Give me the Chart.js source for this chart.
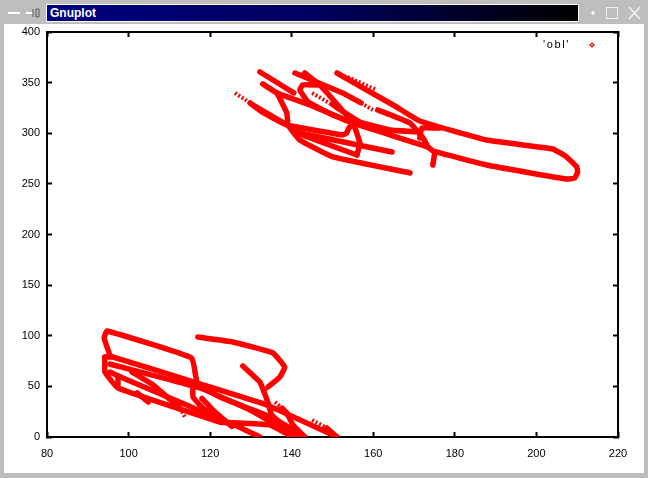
<!DOCTYPE html>
<html><head><meta charset="utf-8">
<script src="https://cdn.jsdelivr.net/npm/chart.js@4"></script>
<style>
html,body{margin:0;padding:0;width:648px;height:478px;overflow:hidden;background:#bebebe;font-family:"Liberation Sans",sans-serif}
#bar{position:absolute;left:46px;top:4px;width:533px;height:18px;background:linear-gradient(90deg,#000080 0%,#000060 50%,#000000 100%);border:1px solid #fff;box-sizing:border-box;color:#fff;font-weight:bold;font-size:12px;line-height:16px;padding-left:3px}
#wrap{position:absolute;left:4px;top:24px;width:640px;height:449px;background:#fff}
svg{position:absolute;left:0;top:0}
canvas{display:block}
</style></head><body>
<svg width="648" height="24"><g fill="none" stroke="#fff" stroke-width="1"><line x1="8" y1="13" x2="20" y2="13" stroke-width="2"/><line x1="26" y1="13" x2="33" y2="13" stroke-width="2"/><rect x="606.5" y="7.5" width="11" height="11" stroke="#f0f0f0"/><rect x="592" y="12" width="2" height="2" fill="#fff"/><path d="M629 7L640 19M640 7L629 19" stroke="#f4f4f4" stroke-width="1.5"/></g><g fill="none" stroke="#555"><path d="M33 9V17M36 9V17H39V9Z"/></g></svg>
<div id="bar">Gnuplot</div>
<div id="wrap"><canvas id="c" width="640" height="449"></canvas></div>
<script>
const seriesName = "'obl'";
const xTicks = [80,100,120,140,160,180,200,220];
const yTicks = [0,50,100,150,200,250,300,350,400];

// solid runs of points, upper cluster
const strip = [[151.1,359.5],[158.4,342.7],[165.3,326.9],[171.4,312.1],[187.8,293.3],[204.0,284.5],[207.4,276.6],[209.9,266.7],[210.1,261.7],[209.4,255.8],[207.4,254.8],[187.8,268.6],[174.6,282.5],[173.4,286.4],[155.0,310.1],[144.5,327.9],[136.4,339.8],[132.9,348.7]];
const upperA = [[129.8,329.9],[132.7,321.0],[138.8,308.2],[152.5,298.3],[153.5,300.3],[154.0,305.2],[154.8,308.2]];
const upperB = [[130.5,327.9],[138.8,308.2],[142.7,298.3],[156.0,278.5]];
const upperC = [[142.0,300.3],[164.6,281.5]];
const upperD = [[132.2,360.5],[136.6,349.6],[140.5,339.8]];
const upperE = [[140.8,359.5],[152.5,339.8],[157.0,330.0]];
const upperF = [[143.2,359.5],[146.9,347.7],[155.0,310.1],[156.7,290.4],[156.0,278.5]];
const upperLoop = [[146.9,347.7],[142.7,347.7],[142.0,342.7],[144.0,330.9],[150.1,318.0],[155.0,310.1]];
const upperG = [[150.1,327.9],[156.7,311.1],[164.1,303.2],[171.4,301.2]];
const upperH = [[161.1,323.0],[169.0,310.1],[172.2,295.3],[173.4,286.4]];
const upperI = [[176.3,305.2],[171.9,305.2],[171.4,295.3]];
const upperJ = [[174.6,268.6],[175.1,281.5]];
const upperK = [[136.4,339.8],[138.8,320.0],[139.1,308.2],[142.0,293.3],[150.1,276.6],[169.0,260.8]];

// solid runs of points, lower cluster
const lowerA = [[95.4,81.0],[94.0,97.8],[94.7,104.7],[115.5,78.0],[116.8,54.3],[122.4,39.5],[135.4,18.8],[143.2,0]];
const lowerB = [[94.2,79.0],[96.2,79.0],[116.8,53.3],[133.9,31.6],[151.1,0]];
const lowerC = [[94.2,79.0],[94.2,64.2],[97.4,48.4],[122.4,14.8],[124.9,13.8],[132.2,0]];
const lowerD = [[95.4,72.1],[117.5,48.4],[129.8,26.7],[141.3,0]];
const lowerE = [[95.4,64.2],[98.6,58.3],[120.0,21.7],[123.1,14.8],[134.7,11.9],[140.3,0]];
const lowerF = [[100.8,64.2],[106.0,51.4],[112.6,28.6]];
const lowerG = [[97.4,58.3],[97.4,51.4]];
const lowerH = [[104.8,34.6],[102.1,43.5]];
const lowerI = [[115.8,51.4],[115.8,39.5],[118.2,28.6],[122.4,16.8]];
const lowerJ = [[117.0,98.8],[125.6,93.8],[135.4,83.0],[138.3,69.1],[137.1,59.3],[134.2,49.4]];
const lowerK = [[128.0,70.1],[132.2,54.3],[134.2,33.6],[135.1,21.7],[141.3,0]];
const lowerL = [[137.6,28.6],[138.8,23.7],[140.3,11.9],[143.2,0]];
const lowerM = [[148.6,8.9],[151.1,0]];
const lowerN = [[118.0,38.0],[121.2,24.7],[125.3,10.5]];

// sparsely sampled runs, where single markers show
const sparseA = [[126.1,339.8],[129.8,329.9]];
const sparseB = [[138.3,344.7],[140.3,339.8]];
const sparseC = [[145.0,339.8],[150.1,327.9]];
const sparseD = [[153.7,355.6],[160.9,342.7]];
const sparseE = [[157.0,330.0],[159.9,323.0]];
const sparseF = [[132.7,43.5],[134.2,49.4]];
const sparseG = [[135.9,34.6],[137.6,28.6]];
const sparseH = [[145.0,16.8],[148.6,8.9]];
const sparseI = [[112.6,28.6],[113.8,19.8]];

const solid = [strip,upperA,upperB,upperC,upperD,upperE,upperF,upperLoop,upperG,upperH,upperI,upperJ,upperK,lowerA,lowerB,lowerC,lowerD,lowerE,lowerF,lowerG,lowerH,lowerI,lowerJ,lowerK,lowerL,lowerM,lowerN];
const sparse = [sparseA,sparseB,sparseC,sparseD,sparseE,sparseF,sparseG,sparseH,sparseI];
const toPts = a => a.map(p => ({x:p[0],y:p[1]}));
const datasets = solid.map(a => ({label:seriesName,data:toPts(a),showLine:true,borderColor:'#ff0000',backgroundColor:'#ff0000',borderWidth:5.5,pointRadius:0,tension:0.1,borderCapStyle:'round',borderJoinStyle:'round',order:1}))
 .concat(sparse.map(a => ({label:seriesName,data:toPts(a),showLine:true,borderColor:'#ff0000',borderWidth:4,borderDash:[2,2],pointRadius:0,order:2})));

const tickStyle = {color:'#000',tickColor:'#000',tickLength:-5,tickWidth:2,drawOnChartArea:false};
const font = {family:'"Liberation Sans"',size:11};
const noPad = s => {s.paddingTop=0;s.paddingBottom=0;s.paddingLeft=0;s.paddingRight=0};
new Chart(document.getElementById('c'),{
 type:'scatter',
 data:{datasets},
 options:{
  responsive:false,animation:false,
  layout:{padding:{top:8,right:26,bottom:0,left:0}},
  plugins:{legend:{display:false},tooltip:{enabled:false},title:{display:false}},
  scales:{
   x:{type:'linear',min:80,max:220,afterBuildTicks:s=>{s.ticks=xTicks.map(v=>({value:v}))},
      grid:tickStyle,border:{color:'#000',width:2},ticks:{color:'#000',font,padding:15,maxRotation:0},afterFit:s=>{s.height=36;noPad(s)}},
   y:{type:'linear',min:0,max:400,afterBuildTicks:s=>{s.ticks=yTicks.map(v=>({value:v}))},
      grid:tickStyle,border:{color:'#000',width:2},ticks:{color:'#000',font,padding:12},afterFit:s=>{s.width=43;noPad(s)}},
   x2:{type:'linear',position:'top',min:80,max:220,afterBuildTicks:s=>{s.ticks=xTicks.map(v=>({value:v}))},
      grid:tickStyle,border:{color:'#000',width:2},ticks:{display:false},afterFit:s=>{s.height=0;noPad(s)}},
   y2:{type:'linear',position:'right',min:0,max:400,afterBuildTicks:s=>{s.ticks=yTicks.map(v=>({value:v}))},
      grid:tickStyle,border:{color:'#000',width:2},ticks:{display:false},afterFit:s=>{s.width=0;noPad(s)}}
  }
 },
 plugins:[{id:'keyBox',afterDraw(ch){
   const c=ch.ctx,a=ch.chartArea;
   c.save();
   c.font='11px "Liberation Sans"';c.letterSpacing='1.6px';c.fillStyle='#000';c.textAlign='right';c.textBaseline='middle';
   c.fillText(seriesName,a.right-48,a.top+13);
   c.letterSpacing='0px';
   c.fillStyle='#ff0000';c.translate(a.right-26,a.top+13);c.rotate(Math.PI/4);c.fillRect(-2,-2,4,4);
   c.fillStyle='#fff';c.fillRect(-.7,-.7,1.4,1.4);
   c.restore();
 }}]
});
</script>
</body></html>
